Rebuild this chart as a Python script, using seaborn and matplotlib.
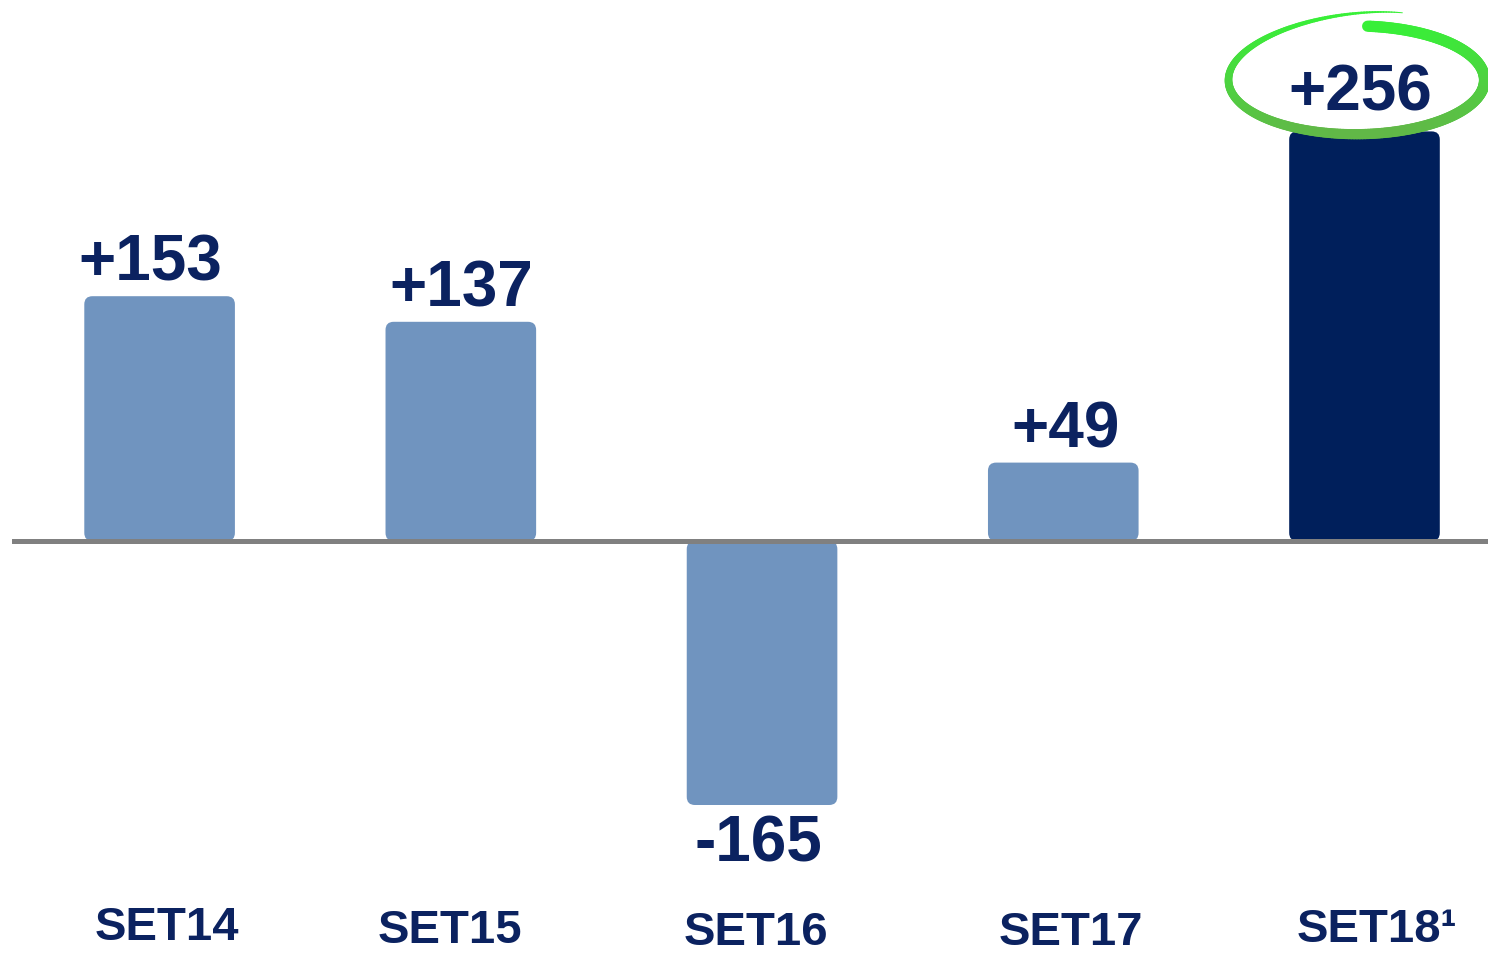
import numpy as np
import pandas as pd
import matplotlib
matplotlib.use("Agg")
import matplotlib.pyplot as plt
import seaborn as sns
from matplotlib.patches import FancyBboxPatch
from matplotlib.collections import LineCollection

# data
categories = ["SET14", "SET15", "SET16", "SET17", "SET18¹"]
values = [153, 137, -165, 49, 256]
value_labels = ["+153", "+137", "-165", "+49", "+256"]
bar_colors = ["#7094bf", "#7094bf", "#7094bf", "#7094bf", "#001f5b"]
text_color = "#0b2260"

df = pd.DataFrame({"category": categories, "value": values})

sns.set_theme(style="white")
plt.rcParams["font.family"] = ["Liberation Sans", "DejaVu Sans"]

W, H = 1488, 956
fig = plt.figure(figsize=(W / 100, H / 100), dpi=100)
x0 = 12 / W
ax = fig.add_axes([x0, 0, 1 - x0, 1])

sns.barplot(data=df, x="category", y="value", hue="category",
            palette=bar_colors, width=0.5, saturation=1,
            legend=False, ax=ax)

# axis scale: baseline at pixel 541 from top, ~1.6 px per unit
px_per_unit = 1.60
base_px = 541
ax.set_xlim(-0.49, 4.41)
ax.set_ylim(-(H - base_px) / px_per_unit, base_px / px_per_unit)
ax.axis("off")

# rounded corners on the bars
px_per_cat = (W - 12) / 4.90
aspect = (1 / px_per_unit) / (1 / px_per_cat)
for p in list(ax.patches):
    bx, by, bw, bh = p.get_x(), p.get_y(), p.get_width(), p.get_height()
    fc = p.get_facecolor()
    p.remove()
    y_lo = min(by, by + bh)
    ax.add_patch(FancyBboxPatch((bx, y_lo), bw, abs(bh),
                                boxstyle="round,pad=0,rounding_size=0.027",
                                mutation_aspect=aspect, fc=fc, ec="none", zorder=2))

ax.axhline(0, color="#808080", lw=3.6, zorder=3)

# value labels (small horizontal nudges in px to follow the original)
val_dx = [-9, 0, -4, 2, -4]
for i, (v, lab) in enumerate(zip(values, value_labels)):
    dx = val_dx[i] * 0.72
    if v >= 0:
        dy = 15 if i == 4 else 11
        ax.annotate(lab, (i, v), xytext=(dx, dy), textcoords="offset points",
                    ha="center", va="baseline", fontsize=46, fontweight="bold",
                    color=text_color, zorder=5)
    else:
        ax.annotate(lab, (i, v), xytext=(dx, -7), textcoords="offset points",
                    ha="center", va="top", fontsize=46, fontweight="bold",
                    color=text_color, zorder=5)

# category labels
cat_dx = [7, -11, -6, 8, 12]
cat_base = [940, 943, 945, 945, 942]
for i, cat in enumerate(categories):
    ax.text(i + cat_dx[i] / px_per_cat, (base_px - cat_base[i]) / px_per_unit, cat,
            ha="center", va="baseline", fontsize=34, fontweight="bold",
            color=text_color)

# green hand-drawn ellipse around the last value
cx_px, cy_px = 1357, 80
s = np.linspace(0, 1, 300)
t = np.deg2rad(85 - 376 * s)
a = 128
b = 54 + 18 * s ** 6
ex = cx_px + a * np.cos(t)
ey = cy_px - b * np.sin(t)
xd = 4 + (ex - 1365) / px_per_cat
yd = (base_px - ey) / px_per_unit
pts = np.column_stack([xd, yd]).reshape(-1, 1, 2)
segs = np.concatenate([pts[:-1], pts[1:]], axis=1)
lw = 7.5 * (1 - s[:-1] ** 3) + 0.6
shade = (np.sin(t[:-1]) + 1) / 2
c_top = np.array([0.22, 0.94, 0.22])
c_bot = np.array([0.38, 0.72, 0.28])
cols = [tuple(c_bot + (c_top - c_bot) * k) for k in shade]
lc = LineCollection(segs, linewidths=lw, colors=cols, capstyle="round", zorder=4)
ax.add_collection(lc)

fig.savefig("out.png", dpi=100)
